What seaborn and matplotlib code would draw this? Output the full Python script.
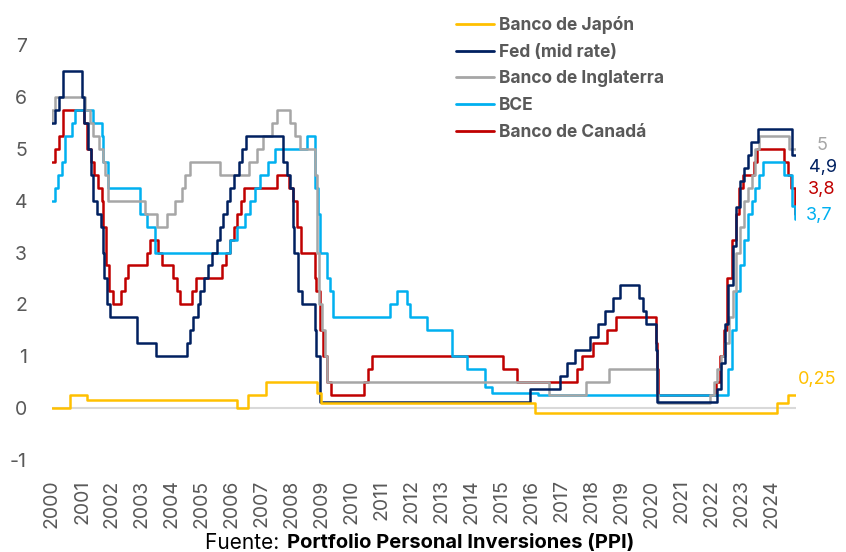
import pandas as pd
import matplotlib
matplotlib.use("Agg")
import matplotlib.pyplot as plt
import seaborn as sns
from matplotlib.lines import Line2D

sns.set_style("white")
plt.rcParams['font.family'] = ['Inter', 'DejaVu Sans']
plt.rcParams['axes.unicode_minus'] = False

END_DATE = "2024-10-31"

# Banco de Japón
jp_dates = ["2000-01-01", "2000-08-11", "2001-02-28", "2006-03-09", "2006-07-14",
            "2007-02-21", "2008-10-31", "2008-12-19", "2016-02-16", "2024-03-19",
            "2024-07-31"]
jp_rates = [0.0, 0.25, 0.15, 0.0, 0.25, 0.5, 0.3, 0.1, -0.1, 0.1, 0.25]

# Fed (mid rate)
fed_dates = ["2000-01-01", "2000-02-02", "2000-03-21", "2000-05-16", "2001-01-03",
             "2001-01-31", "2001-03-20", "2001-04-18", "2001-05-15", "2001-06-27",
             "2001-08-21", "2001-09-17", "2001-10-02", "2001-11-06", "2001-12-11",
             "2002-11-06", "2003-06-25", "2004-06-30", "2004-08-10", "2004-09-21",
             "2004-11-10", "2004-12-14", "2005-02-02", "2005-03-22", "2005-05-03",
             "2005-06-30", "2005-08-09", "2005-09-20", "2005-11-01", "2005-12-13",
             "2006-01-31", "2006-03-28", "2006-05-10", "2006-06-29", "2007-09-18",
             "2007-10-31", "2007-12-11", "2008-01-22", "2008-01-30", "2008-03-18",
             "2008-04-30", "2008-10-08", "2008-10-29", "2008-12-16", "2015-12-16",
             "2016-12-14", "2017-03-15", "2017-06-14", "2017-12-13", "2018-03-21",
             "2018-06-13", "2018-09-26", "2018-12-19", "2019-07-31", "2019-09-18",
             "2019-10-30", "2020-03-03", "2020-03-15", "2022-03-16", "2022-05-04",
             "2022-06-15", "2022-07-27", "2022-09-21", "2022-11-02", "2022-12-14",
             "2023-02-01", "2023-03-22", "2023-05-03", "2023-07-26", "2024-09-18"]
fed_rates = [5.5, 5.75, 6.0, 6.5, 6.0, 5.5, 5.0, 4.5, 4.0, 3.75,
             3.5, 3.0, 2.5, 2.0, 1.75, 1.25, 1.0, 1.25, 1.5, 1.75,
             2.0, 2.25, 2.5, 2.75, 3.0, 3.25, 3.5, 3.75, 4.0, 4.25,
             4.5, 4.75, 5.0, 5.25, 4.75, 4.5, 4.25, 3.5, 3.0, 2.25,
             2.0, 1.5, 1.0, 0.125, 0.375, 0.625, 0.875, 1.125, 1.375, 1.625,
             1.875, 2.125, 2.375, 2.125, 1.875, 1.625, 1.125, 0.125, 0.375, 0.875,
             1.625, 2.375, 3.125, 3.875, 4.375, 4.625, 4.875, 5.125, 5.375, 4.875]

# Banco de Inglaterra
boe_dates = ["2000-01-01", "2000-01-06", "2000-01-13", "2000-02-10", "2001-02-08",
             "2001-04-05", "2001-05-10", "2001-08-02", "2001-09-18", "2001-10-04",
             "2001-11-08", "2003-02-06", "2003-07-10", "2003-11-06", "2004-02-05",
             "2004-05-06", "2004-06-10", "2004-08-05", "2005-08-04", "2006-08-03",
             "2006-11-09", "2007-01-11", "2007-05-10", "2007-07-05", "2007-12-06",
             "2008-02-07", "2008-04-10", "2008-10-08", "2008-11-06", "2008-12-04",
             "2009-01-08", "2009-02-05", "2009-03-05", "2016-08-04", "2017-11-02",
             "2018-08-02", "2020-03-11", "2020-03-19", "2021-12-16", "2022-02-03",
             "2022-03-17", "2022-05-05", "2022-06-16", "2022-08-04", "2022-09-22",
             "2022-11-03", "2022-12-15", "2023-02-02", "2023-03-23", "2023-05-11",
             "2023-06-22", "2023-08-03", "2024-08-01"]
boe_rates = [5.5, 5.75, 5.75, 6.0, 5.75, 5.5, 5.25, 5.0, 4.75, 4.5,
             4.0, 3.75, 3.5, 3.75, 4.0, 4.25, 4.5, 4.75, 4.5, 4.75,
             5.0, 5.25, 5.5, 5.75, 5.5, 5.25, 5.0, 4.5, 3.0, 2.0,
             1.5, 1.0, 0.5, 0.25, 0.5, 0.75, 0.25, 0.1, 0.25, 0.5,
             0.75, 1.0, 1.25, 1.75, 2.25, 3.0, 3.5, 4.0, 4.25, 4.5,
             5.0, 5.25, 5.0]

# BCE (facilidad marginal de crédito)
ecb_dates = ["2000-01-01", "2000-02-04", "2000-03-17", "2000-04-28", "2000-06-09",
             "2000-09-01", "2000-10-06", "2001-05-11", "2001-08-31", "2001-09-18",
             "2001-11-09", "2002-12-06", "2003-03-07", "2003-06-06", "2005-12-06",
             "2006-03-08", "2006-06-15", "2006-08-09", "2006-10-11", "2006-12-13",
             "2007-03-14", "2007-06-13", "2008-07-09", "2008-10-08", "2008-10-15",
             "2008-11-12", "2008-12-10", "2009-03-11", "2009-04-08", "2009-05-13",
             "2011-04-13", "2011-07-13", "2011-11-09", "2011-12-14", "2012-07-11",
             "2013-05-08", "2013-11-13", "2014-06-11", "2014-09-10", "2016-03-16",
             "2022-07-27", "2022-09-14", "2022-11-02", "2022-12-21", "2023-02-08",
             "2023-03-22", "2023-05-10", "2023-06-21", "2023-08-02", "2023-09-20",
             "2024-06-12", "2024-09-18", "2024-10-23"]
ecb_rates = [4.0, 4.25, 4.5, 4.75, 5.25, 5.5, 5.75, 5.5, 5.25, 4.75,
             4.25, 3.75, 3.5, 3.0, 3.25, 3.5, 3.75, 4.0, 4.25, 4.5,
             4.75, 5.0, 5.25, 4.75, 4.25, 3.75, 3.0, 2.5, 2.25, 1.75,
             2.0, 2.25, 2.0, 1.75, 1.5, 1.0, 0.75, 0.4, 0.3, 0.25,
             0.75, 1.5, 2.25, 2.75, 3.25, 3.75, 4.0, 4.25, 4.5, 4.75,
             4.5, 3.9, 3.65]

# Banco de Canadá
boc_dates = ["2000-01-01", "2000-02-03", "2000-03-22", "2000-05-17", "2001-01-23",
             "2001-03-06", "2001-04-17", "2001-05-29", "2001-07-17", "2001-08-28",
             "2001-09-17", "2001-10-23", "2001-11-27", "2002-01-15", "2002-04-16",
             "2002-06-04", "2002-07-16", "2003-03-04", "2003-04-15", "2003-07-15",
             "2003-09-03", "2004-01-20", "2004-03-02", "2004-04-13", "2004-09-08",
             "2004-10-19", "2005-09-07", "2005-10-18", "2005-12-06", "2006-01-24",
             "2006-03-07", "2006-04-25", "2006-05-24", "2007-07-10", "2007-12-04",
             "2008-01-22", "2008-03-04", "2008-04-22", "2008-10-08", "2008-10-21",
             "2008-12-09", "2009-01-20", "2009-03-03", "2009-04-21", "2010-06-01",
             "2010-07-20", "2010-09-08", "2015-01-21", "2015-07-15", "2017-07-12",
             "2017-09-06", "2018-01-17", "2018-07-11", "2018-10-24", "2020-03-04",
             "2020-03-13", "2020-03-27", "2022-03-02", "2022-04-13", "2022-06-01",
             "2022-07-13", "2022-09-07", "2022-10-26", "2022-12-07", "2023-01-25",
             "2023-06-07", "2023-07-12", "2024-06-05", "2024-07-24", "2024-09-04",
             "2024-10-23"]
boc_rates = [4.75, 5.0, 5.25, 5.75, 5.5, 5.0, 4.75, 4.5, 4.25, 4.0,
             3.5, 2.75, 2.25, 2.0, 2.25, 2.5, 2.75, 3.0, 3.25, 3.0,
             2.75, 2.5, 2.25, 2.0, 2.25, 2.5, 2.75, 3.0, 3.25, 3.5,
             3.75, 4.0, 4.25, 4.5, 4.25, 4.0, 3.5, 3.0, 2.5, 2.25,
             1.5, 1.0, 0.5, 0.25, 0.5, 0.75, 1.0, 0.75, 0.5, 0.75,
             1.0, 1.25, 1.5, 1.75, 1.25, 0.75, 0.25, 0.5, 1.0, 1.5,
             2.5, 3.25, 3.75, 4.25, 4.5, 4.75, 5.0, 4.75, 4.5, 4.25,
             3.75]

banks = ["Banco de Japón", "Fed (mid rate)", "Banco de Inglaterra", "BCE", "Banco de Canadá"]
series = [(jp_dates, jp_rates), (fed_dates, fed_rates), (boe_dates, boe_rates),
          (ecb_dates, ecb_rates), (boc_dates, boc_rates)]
palette = {
    "Banco de Japón": "#FFC000",
    "Fed (mid rate)": "#002060",
    "Banco de Inglaterra": "#A6A6A6",
    "BCE": "#00B0F0",
    "Banco de Canadá": "#C00000",
}
end_labels = ["0,25", "4,9", "5", "3,7", "3,8"]
# label offsets (points) relative to the last point of each line
label_offsets = [(1, 11), (9, -9), (15, 2.5), (7, 2.5), (8.5, 17)]

dfs = []
for name, (d, r) in zip(banks, series):
    tmp = pd.DataFrame({"fecha": pd.to_datetime(d + [END_DATE]), "tasa": r + [r[-1]]})
    tmp["banco"] = name
    dfs.append(tmp)
df = pd.concat(dfs, ignore_index=True)

fig = plt.figure(figsize=(8.46, 5.52), dpi=100)
ax = fig.add_axes([52 / 846, (552 - 460) / 552, (796 - 52) / 846, (460 - 45) / 552])

ax.axhline(0, color="#D9D9D9", lw=1.5, zorder=0)

# draw in reverse so Japón ends up on the bottom like the original
for name in banks[::-1]:
    sns.lineplot(data=df[df["banco"] == name], x="fecha", y="tasa", color=palette[name],
                 estimator=None, drawstyle="steps-post", lw=1.8, ax=ax, legend=False)

ax.set_xlim(pd.Timestamp("2000-01-01"), pd.Timestamp(END_DATE))
ax.set_ylim(-1, 7)
ax.set_yticks(range(-1, 8))
years = list(range(2000, 2025))
ax.set_xticks([pd.Timestamp(f"{y}-01-01") for y in years])
ax.set_xticklabels([str(y) for y in years], rotation=90)
ax.tick_params(axis="both", length=0, labelsize=14, labelcolor="#595959")
ax.tick_params(axis="y", pad=18)
ax.tick_params(axis="x", pad=14)
ax.set_xlabel("")
ax.set_ylabel("")
for s in ax.spines.values():
    s.set_visible(False)

for name, lab, (dx, dy), (d, r) in zip(banks, end_labels, label_offsets, series):
    ax.annotate(lab, xy=(pd.Timestamp(END_DATE), r[-1]), xytext=(dx, dy),
                textcoords="offset points", ha="left", va="center",
                fontsize=13, color=palette[name])

handles = [Line2D([0], [0], color=palette[n], lw=2) for n in banks]
leg = fig.legend(handles, banks, loc="upper left", bbox_to_anchor=(456 / 846, 0.971),
                 frameon=False, fontsize=12.5, handlelength=2.2, handletextpad=0.25,
                 labelspacing=0.56, borderpad=0, borderaxespad=0)
for t in leg.get_texts():
    t.set_fontweight("bold")
    t.set_color("#595959")

fig.text(285 / 846, 0.016, "Fuente: ", ha="right", va="center", fontsize=15, color="black")
fig.text(287 / 846, 0.016, "Portfolio Personal Inversiones (PPI)", ha="left", va="center",
         fontsize=14.5, fontweight="bold", color="black")

fig.savefig("out.png", dpi=100)
